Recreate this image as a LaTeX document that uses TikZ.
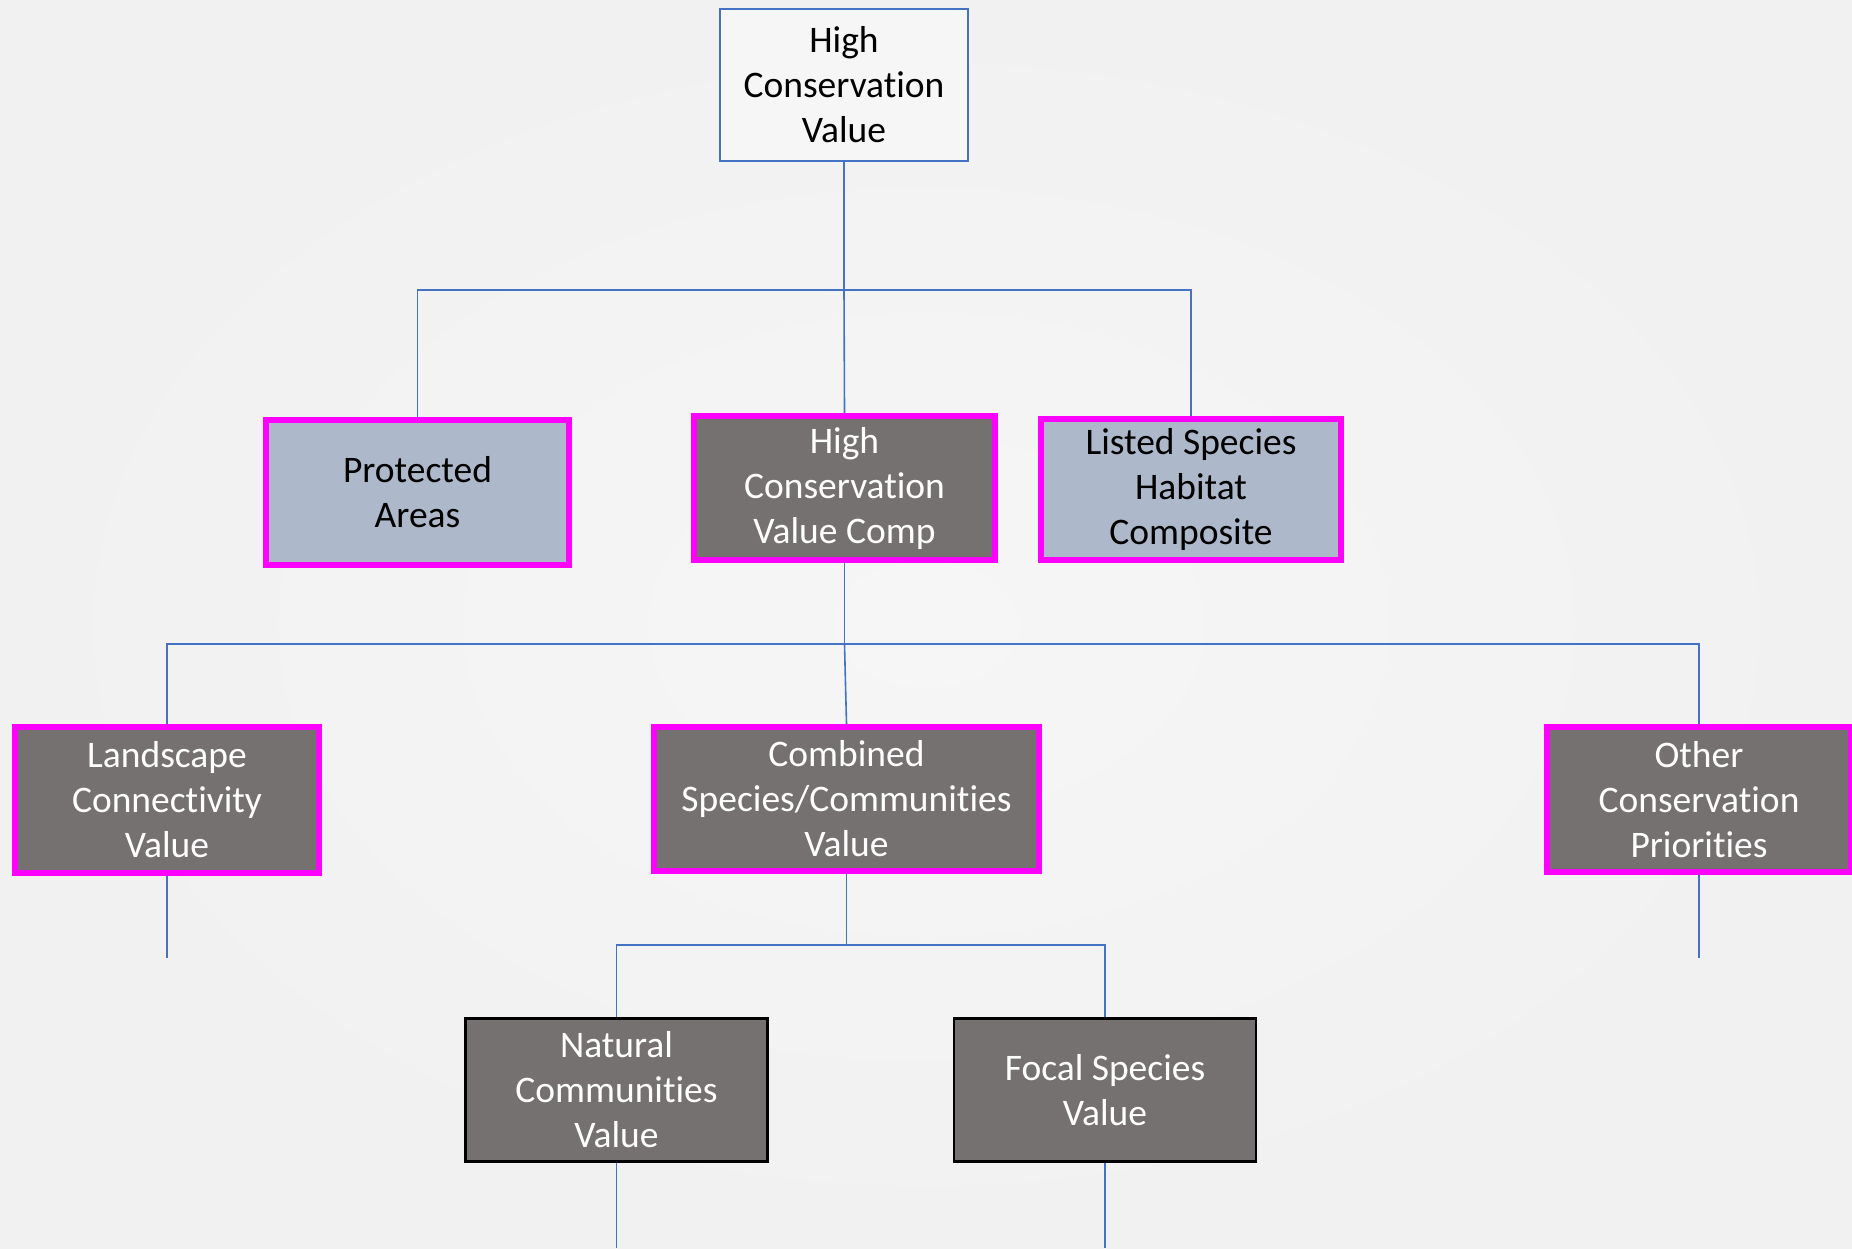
\documentclass[tikz,border=0pt]{standalone}
\usepackage{fontspec}
\setmainfont{Carlito}[Ligatures=NoCommon]
\definecolor{lineblue}{HTML}{4472C4}
\definecolor{slate}{HTML}{767171}
\definecolor{paleblue}{HTML}{ADB9CA}
\definecolor{hotpink}{HTML}{FF00FF}
\definecolor{bgin}{HTML}{F6F6F6}
\definecolor{bgout}{HTML}{F1F1F1}
\begin{document}
\begin{tikzpicture}[x=1pt,y=-1pt,
  conn/.style={draw=lineblue, line width=1.6pt},
  box/.style={rectangle, align=center, inner sep=0pt,
    font=\fontsize{37.5}{45}\selectfont},
  rootbox/.style={box, draw=lineblue, line width=1.6pt, fill=bgin,
    minimum width=248, minimum height=152},
  hotgray/.style={box, draw=hotpink, line width=6pt, fill=slate, text=white},
  hotblue/.style={box, draw=hotpink, line width=6pt, fill=paleblue, text=black},
  plaingray/.style={box, draw=black, line width=2.5pt, fill=slate, text=white,
    minimum width=302, minimum height=143}
]
% background
\shade[inner color=bgin, outer color=bgout] (0,0) rectangle (1852,1248);
\useasboundingbox (0,0) rectangle (1852,1248);

% nodes
\node[rootbox] (hcv) at (844,85) {High\\Conservation\\Value};

\node[hotblue, minimum width=303, minimum height=145] (pa) at (417.5,492.5) {Protected\\Areas};
\node[hotgray, minimum width=301, minimum height=144] (comp) at (844.5,488) {High\\Conservation\\Value Comp};
\node[hotblue, minimum width=300, minimum height=141] (listed) at (1191,489.5) {Listed Species\\Habitat\\Composite};

\node[hotgray, minimum width=304, minimum height=146] (land) at (167,800) {Landscape\\Connectivity\\Value};
\node[hotgray, minimum width=385, minimum height=144] (comb) at (846.5,799) {Combined\\Species/Communities\\Value};
\node[hotgray, minimum width=304, minimum height=145] (other) at (1699,799.5) {Other\\Conservation\\Priorities};

\node[plaingray] (nat) at (616.5,1090) {Natural\\Communities\\Value};
\node[plaingray] (focal) at (1105,1090) {Focal Species\\Value};

% junctions and free ends
\coordinate (j1) at (844,290);
\coordinate (j2) at (844.5,644);
\coordinate (j3) at (846.5,945);
\coordinate (landend) at (167,958);
\coordinate (otherend) at (1699,958);
\coordinate (natend) at (616.5,1248);
\coordinate (focalend) at (1105,1248);

% connectors
\draw[conn] (hcv.south) -- (j1);
\draw[conn] (j1) -| (pa.north);
\draw[conn] (j1) -- (comp.north);
\draw[conn] (j1) -| (listed.north);

\draw[conn] (comp.south) -- (j2);
\draw[conn] (j2) -| (land.north);
\draw[conn] (j2) -- (comb.north);
\draw[conn] (j2) -| (other.north);

\draw[conn] (comb.south) -- (j3);
\draw[conn] (j3) -| (nat.north);
\draw[conn] (j3) -| (focal.north);

\draw[conn] (land.south) -- (landend);
\draw[conn] (other.south) -- (otherend);
\draw[conn] (nat.south) -- (natend);
\draw[conn] (focal.south) -- (focalend);
\end{tikzpicture}
\end{document}
